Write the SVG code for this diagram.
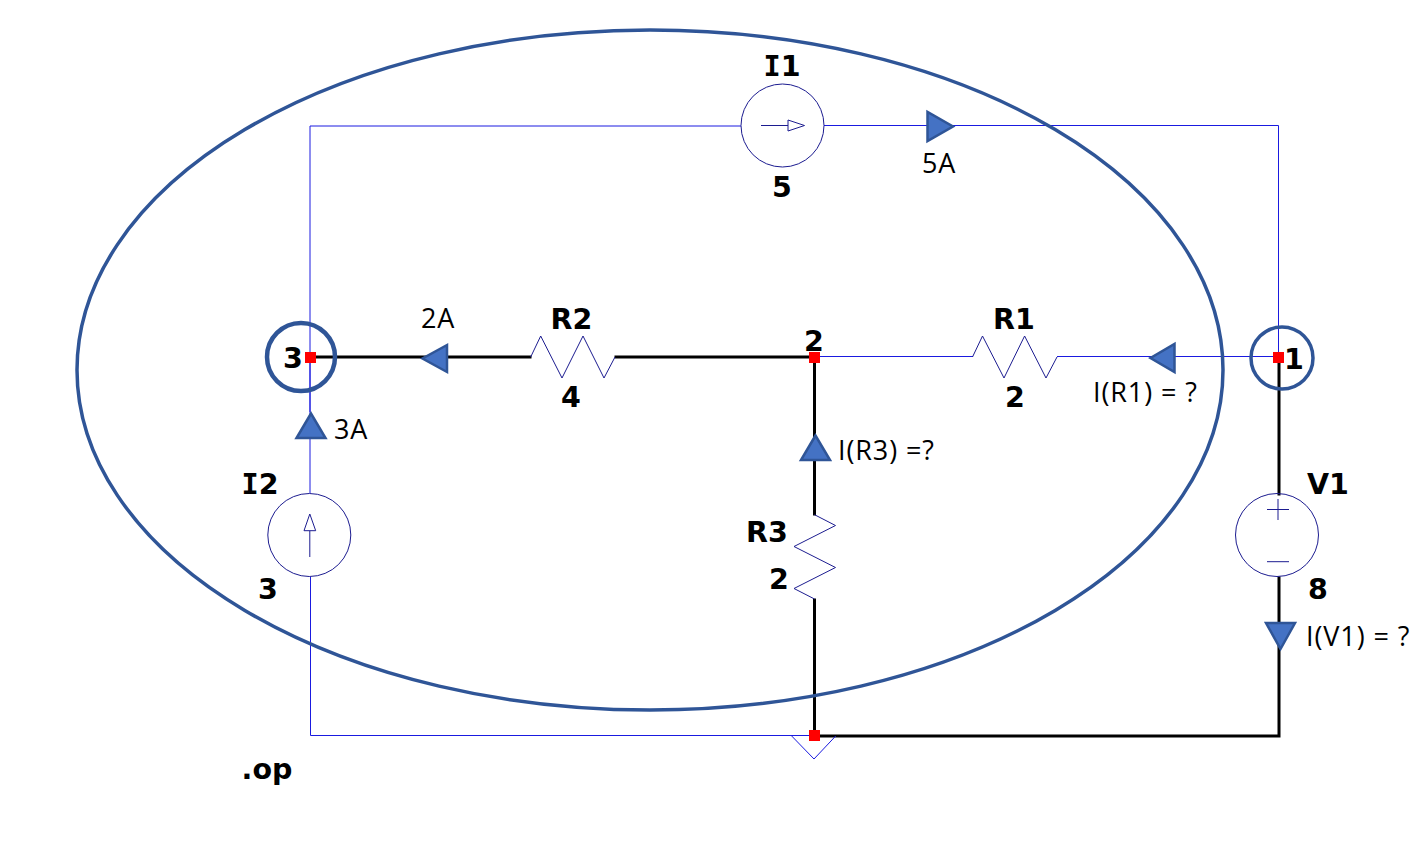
<svg xmlns="http://www.w3.org/2000/svg" width="1424" height="844" viewBox="0 0 1424 844">
<style>
.bg{fill:#fff}
.wb{fill:none;stroke:#1a1ae0;stroke-width:1}
.wk{fill:none;stroke:#000;stroke-width:3;stroke-linejoin:miter;stroke-linecap:square}
.sym{fill:none;stroke:#1c1c90;stroke-width:1}
.ring{fill:none;stroke:#2f5597;stroke-width:3.5}
.ring3{fill:none;stroke:#2f5597;stroke-width:4.5}
.tri{fill:#4472c4;stroke:#2f5597;stroke-width:2.5;stroke-linejoin:miter}
.node{fill:#f00}
text{fill:#000}
.b{font-family:"DejaVu Sans",sans-serif;font-weight:700;font-size:28.500px;text-anchor:middle}
.s{font-family:"DejaVu Sans Mono","DejaVu Sans",monospace;font-weight:700}
.r{font-family:"Open Sans","Noto Sans",sans-serif;font-size:27px;letter-spacing:.9px}
</style>
<rect class="bg" width="1424" height="844"/>
<g id="connectors">
<path class="wb" d="M310 493V126H741M824 125.500H1278.500V357M310.500 577V735.500H814M814 356.500H973M1057 356.500H1278M310 357V412"/>
<path class="wk" d="M310 357H530M616 357H814.500M814.500 357V514M814.500 600V736H1279V578M1279 357V494"/>
</g>
<g id="R2"><polyline class="sym" points="530.700,357 540.700,336 562,378 583,336 604,378 615,357"/><text class="b" x="571.500" y="329">R2</text><text class="b" x="571" y="407">4</text></g>
<g id="R1"><polyline class="sym" points="972.500,357 982.500,336 1004,378 1024.600,336 1046,378 1057,357"/><text class="b" x="1014" y="329">R1</text><text class="b" x="1015" y="407">2</text></g>
<g id="R3"><polyline class="sym" points="814.500,514.700 835.500,525.500 794,546.500 835.500,567.500 794,588.500 814.500,599"/><text class="b" x="767" y="542">R3</text><text class="b" x="779" y="589">2</text></g>
<g id="I1"><circle class="sym" cx="782.500" cy="125.500" r="41.500"/><path class="sym" d="M761 125.500H788M788 120L804.500 125.500L788 131Z"/><text class="b" x="782" y="76"><tspan class="s">I</tspan>1</text><text class="b" x="782" y="197">5</text></g>
<g id="I2"><circle class="sym" cx="309.300" cy="535" r="41.500"/><path class="sym" d="M309.800 557V531M309.800 514L304 530.700H315.700Z"/><text class="b" x="260" y="494"><tspan class="s">I</tspan>2</text><text class="b" x="268" y="599">3</text></g>
<g id="V1"><circle class="sym" cx="1277" cy="535" r="41.500"/><path class="sym" d="M1267 509.500H1289M1278 499V520M1267 561.700H1289"/><text class="b" x="1328" y="494">V1</text><text class="b" x="1318" y="599">8</text></g>
<g id="GND"><polyline class="wb" points="791.700,736 814,759 835.700,736"/></g>
<g id="ellipse"><ellipse class="ring" cx="650" cy="370" rx="573" ry="340"/></g>
<g id="node3"><circle class="ring3" cx="301" cy="357" r="34"/><rect class="node" x="305" y="352" width="11" height="11"/><text class="b" x="293" y="368">3</text></g>
<g id="node2"><rect class="node" x="809" y="352" width="11" height="11"/><text class="b" x="814" y="351">2</text></g>
<g id="node1"><circle class="ring" cx="1282" cy="358" r="31"/><rect class="node" x="1273" y="352" width="11" height="11"/><text class="b" x="1294" y="369">1</text></g>
<g id="node0"><rect class="node" x="809" y="730" width="11" height="11"/></g>
<g id="cur5A"><polygon class="tri" points="927.500,112 927.500,141 953,126.500"/><text class="r" x="922" y="173">5A</text></g>
<g id="cur2A"><polygon class="tri" points="447,345 447,372 422.500,358.500"/><text class="r" x="421" y="328">2A</text></g>
<g id="cur3A"><polygon class="tri" points="311,413.500 296.500,438 325.500,438"/><text class="r" x="334" y="439">3A</text></g>
<g id="curR1"><polygon class="tri" points="1174.500,344 1174.500,372 1150.500,358"/><text class="r" x="1093" y="402">I(R1) = ?</text></g>
<g id="curR3"><polygon class="tri" points="815.500,435.500 801,460 830,460"/><text class="r" x="838" y="460">I(R3) =?</text></g>
<g id="curV1"><polygon class="tri" points="1266,623 1295,623 1280.500,649"/><text class="r" x="1306" y="646">I(V1) = ?</text></g>
<text class="b" x="267" y="779">.op</text>
</svg>
